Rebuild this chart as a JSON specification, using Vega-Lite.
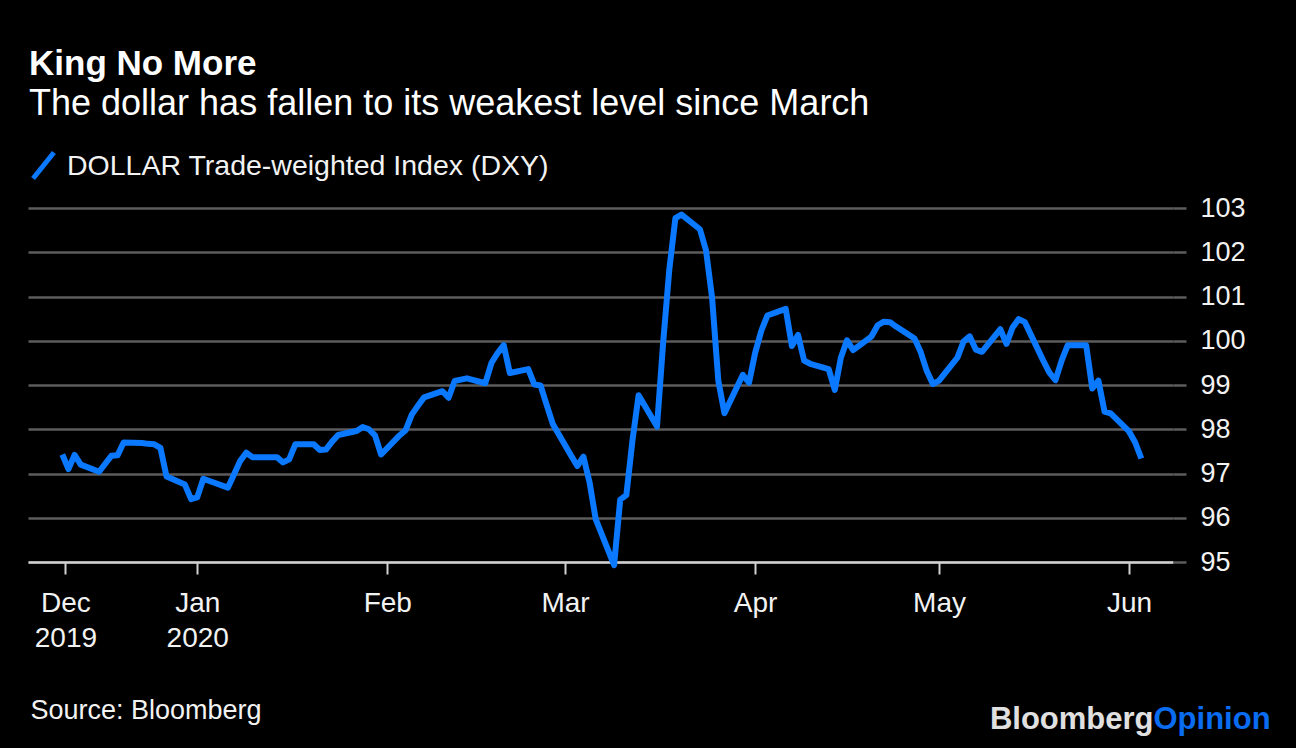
{
  "$schema": "https://vega.github.io/schema/vega-lite/v6.json",
  "width": 1145,
  "height": 354,
  "autosize": {"type": "none"},
  "padding": {"left": 28, "top": 208, "right": 123, "bottom": 186},
  "background": "#000000",
  "config": {"view": {"stroke": null}, "font": "Liberation Sans"},
  "title": {
    "text": "King No More",
    "subtitle": "The dollar has fallen to its weakest level since March",
    "anchor": "start",
    "frame": "group",
    "dx": 1,
    "offset": 28,
    "color": "#ffffff",
    "font": "Liberation Sans",
    "fontSize": 35,
    "fontWeight": "bold",
    "subtitleColor": "#ffffff",
    "subtitleFont": "Liberation Sans",
    "subtitleFontSize": 36,
    "subtitlePadding": 5
  },
  "data": {
    "values": [
      {"date": "2019-12-10", "value": 97.43},
      {"date": "2019-12-11", "value": 97.10},
      {"date": "2019-12-12", "value": 97.42},
      {"date": "2019-12-13", "value": 97.20},
      {"date": "2019-12-16", "value": 97.04},
      {"date": "2019-12-17", "value": 97.22},
      {"date": "2019-12-18", "value": 97.40},
      {"date": "2019-12-19", "value": 97.41},
      {"date": "2019-12-20", "value": 97.70},
      {"date": "2019-12-23", "value": 97.69},
      {"date": "2019-12-24", "value": 97.67},
      {"date": "2019-12-25", "value": 97.66},
      {"date": "2019-12-26", "value": 97.58},
      {"date": "2019-12-27", "value": 96.93},
      {"date": "2019-12-30", "value": 96.75},
      {"date": "2019-12-31", "value": 96.42},
      {"date": "2020-01-01", "value": 96.46},
      {"date": "2020-01-02", "value": 96.88},
      {"date": "2020-01-03", "value": 96.83},
      {"date": "2020-01-06", "value": 96.68},
      {"date": "2020-01-07", "value": 96.98},
      {"date": "2020-01-08", "value": 97.28},
      {"date": "2020-01-09", "value": 97.47},
      {"date": "2020-01-10", "value": 97.37},
      {"date": "2020-01-13", "value": 97.37},
      {"date": "2020-01-14", "value": 97.37},
      {"date": "2020-01-15", "value": 97.25},
      {"date": "2020-01-16", "value": 97.32},
      {"date": "2020-01-17", "value": 97.66},
      {"date": "2020-01-20", "value": 97.66},
      {"date": "2020-01-21", "value": 97.53},
      {"date": "2020-01-22", "value": 97.54},
      {"date": "2020-01-23", "value": 97.72},
      {"date": "2020-01-24", "value": 97.87},
      {"date": "2020-01-27", "value": 97.96},
      {"date": "2020-01-28", "value": 98.05},
      {"date": "2020-01-29", "value": 98.00},
      {"date": "2020-01-30", "value": 97.86},
      {"date": "2020-01-31", "value": 97.43},
      {"date": "2020-02-03", "value": 97.86},
      {"date": "2020-02-04", "value": 97.98},
      {"date": "2020-02-05", "value": 98.33},
      {"date": "2020-02-06", "value": 98.53},
      {"date": "2020-02-07", "value": 98.72},
      {"date": "2020-02-10", "value": 98.86},
      {"date": "2020-02-11", "value": 98.71},
      {"date": "2020-02-12", "value": 99.09},
      {"date": "2020-02-13", "value": 99.12},
      {"date": "2020-02-14", "value": 99.15},
      {"date": "2020-02-17", "value": 99.04},
      {"date": "2020-02-18", "value": 99.50},
      {"date": "2020-02-19", "value": 99.72},
      {"date": "2020-02-20", "value": 99.90},
      {"date": "2020-02-21", "value": 99.27},
      {"date": "2020-02-24", "value": 99.36},
      {"date": "2020-02-25", "value": 99.01},
      {"date": "2020-02-26", "value": 98.99},
      {"date": "2020-02-27", "value": 98.55},
      {"date": "2020-02-28", "value": 98.12},
      {"date": "2020-03-02", "value": 97.40},
      {"date": "2020-03-03", "value": 97.17},
      {"date": "2020-03-04", "value": 97.38},
      {"date": "2020-03-05", "value": 96.80},
      {"date": "2020-03-06", "value": 95.97},
      {"date": "2020-03-09", "value": 94.93},
      {"date": "2020-03-10", "value": 96.41},
      {"date": "2020-03-11", "value": 96.51},
      {"date": "2020-03-12", "value": 97.75},
      {"date": "2020-03-13", "value": 98.77},
      {"date": "2020-03-16", "value": 98.06},
      {"date": "2020-03-17", "value": 99.95},
      {"date": "2020-03-18", "value": 101.60},
      {"date": "2020-03-19", "value": 102.77},
      {"date": "2020-03-20", "value": 102.85},
      {"date": "2020-03-23", "value": 102.52},
      {"date": "2020-03-24", "value": 102.04},
      {"date": "2020-03-25", "value": 100.95},
      {"date": "2020-03-26", "value": 99.10},
      {"date": "2020-03-27", "value": 98.36},
      {"date": "2020-03-30", "value": 99.23},
      {"date": "2020-03-31", "value": 99.05},
      {"date": "2020-04-01", "value": 99.72},
      {"date": "2020-04-02", "value": 100.22},
      {"date": "2020-04-03", "value": 100.57},
      {"date": "2020-04-06", "value": 100.72},
      {"date": "2020-04-07", "value": 99.88},
      {"date": "2020-04-08", "value": 100.13},
      {"date": "2020-04-09", "value": 99.55},
      {"date": "2020-04-10", "value": 99.48},
      {"date": "2020-04-13", "value": 99.36},
      {"date": "2020-04-14", "value": 98.89},
      {"date": "2020-04-15", "value": 99.62},
      {"date": "2020-04-16", "value": 100.01},
      {"date": "2020-04-17", "value": 99.79},
      {"date": "2020-04-20", "value": 100.10},
      {"date": "2020-04-21", "value": 100.35},
      {"date": "2020-04-22", "value": 100.43},
      {"date": "2020-04-23", "value": 100.42},
      {"date": "2020-04-24", "value": 100.32},
      {"date": "2020-04-27", "value": 100.05},
      {"date": "2020-04-28", "value": 99.75},
      {"date": "2020-04-29", "value": 99.32},
      {"date": "2020-04-30", "value": 99.02},
      {"date": "2020-05-01", "value": 99.10},
      {"date": "2020-05-04", "value": 99.62},
      {"date": "2020-05-05", "value": 99.98},
      {"date": "2020-05-06", "value": 100.10},
      {"date": "2020-05-07", "value": 99.80},
      {"date": "2020-05-08", "value": 99.75},
      {"date": "2020-05-11", "value": 100.26},
      {"date": "2020-05-12", "value": 99.93},
      {"date": "2020-05-13", "value": 100.30},
      {"date": "2020-05-14", "value": 100.49},
      {"date": "2020-05-15", "value": 100.42},
      {"date": "2020-05-18", "value": 99.55},
      {"date": "2020-05-19", "value": 99.28},
      {"date": "2020-05-20", "value": 99.11},
      {"date": "2020-05-21", "value": 99.55},
      {"date": "2020-05-22", "value": 99.90},
      {"date": "2020-05-25", "value": 99.90},
      {"date": "2020-05-26", "value": 98.92},
      {"date": "2020-05-27", "value": 99.10},
      {"date": "2020-05-28", "value": 98.40},
      {"date": "2020-05-29", "value": 98.36},
      {"date": "2020-06-01", "value": 97.95},
      {"date": "2020-06-02", "value": 97.70},
      {"date": "2020-06-03", "value": 97.34}
    ]
  },
  "encoding": {
    "x": {
      "field": "date",
      "type": "temporal",
      "scale": {"type": "utc", "domain": [1575452160000, 1591588800000]},
      "axis": {
        "orient": "bottom",
        "values": [1575979200000, 1577836800000, 1580515200000, 1583020800000, 1585699200000, 1588291200000, 1590969600000],
        "labelExpr": "utcmonth(datum.value) == 11 ? ['Dec', '2019'] : utcmonth(datum.value) == 0 ? ['Jan', '2020'] : utcFormat(datum.value, '%b')",
        "labelFont": "Liberation Sans",
        "labelFontSize": 28,
        "labelLineHeight": 35,
        "labelColor": "#f2f2f2",
        "labelPadding": 15,
        "labelFlush": false,
        "labelOverlap": false,
        "tickSize": 12,
        "tickWidth": 2,
        "tickColor": "#d0d0d0",
        "domainColor": "#d0d0d0",
        "domainWidth": 2.5,
        "grid": false,
        "title": "Source: Bloomberg",
        "titleFont": "Liberation Sans",
        "titleFontSize": 27,
        "titleFontWeight": "normal",
        "titleColor": "#f2f2f2",
        "titleAnchor": "start",
        "titleAlign": "left",
        "titleBaseline": "alphabetic",
        "titleX": 2,
        "titleY": 156
      }
    }
  },
  "layer": [
    {
      "mark": {"type": "line", "strokeWidth": 6, "strokeJoin": "round"},
      "encoding": {
        "y": {
          "field": "value",
          "type": "quantitative",
          "scale": {"domain": [95, 103], "zero": false, "nice": false},
          "axis": {
            "orient": "right",
            "values": [95, 96, 97, 98, 99, 100, 101, 102, 103],
            "labelFont": "Liberation Sans",
            "labelFontSize": 27,
            "labelColor": "#f2f2f2",
            "labelPadding": 14,
            "tickSize": 13,
            "tickWidth": 2.5,
            "tickColor": "#5c5c5c",
            "domain": false,
            "grid": true,
            "gridColor": "#5c5c5c",
            "gridWidth": 2.5,
            "title": "Bloomberg",
            "titleFont": "Liberation Sans",
            "titleFontSize": 31,
            "titleFontWeight": "bold",
            "titleColor": "#e0e0e0",
            "titleAngle": 0,
            "titleAlign": "right",
            "titleBaseline": "alphabetic",
            "titleX": -20,
            "titleY": 520
          }
        },
        "color": {
          "datum": "DOLLAR Trade-weighted Index (DXY)",
          "scale": {"range": ["#0a78ff"]},
          "legend": {
            "orient": "top",
            "title": null,
            "offset": 19,
            "padding": 0,
            "symbolType": "M-0.8,1L0.8,-1",
            "symbolSize": 676,
            "symbolStrokeWidth": 5,
            "labelOffset": 8,
            "labelLimit": 0,
            "labelFont": "Liberation Sans",
            "labelFontSize": 28.5,
            "labelColor": "#f2f2f2"
          }
        }
      }
    },
    {
      "mark": {"type": "line", "opacity": 0},
      "encoding": {
        "y": {
          "field": "value",
          "type": "quantitative",
          "axis": {
            "orient": "left",
            "labels": false,
            "ticks": false,
            "domain": false,
            "grid": false,
            "title": "Opinion",
            "titleFont": "Liberation Sans",
            "titleFontSize": 31,
            "titleFontWeight": "bold",
            "titleColor": "#0a6cf0",
            "titleAngle": 0,
            "titleAlign": "left",
            "titleBaseline": "alphabetic",
            "titleX": 1125,
            "titleY": 520
          }
        }
      }
    }
  ],
  "resolve": {"axis": {"y": "independent"}}
}
